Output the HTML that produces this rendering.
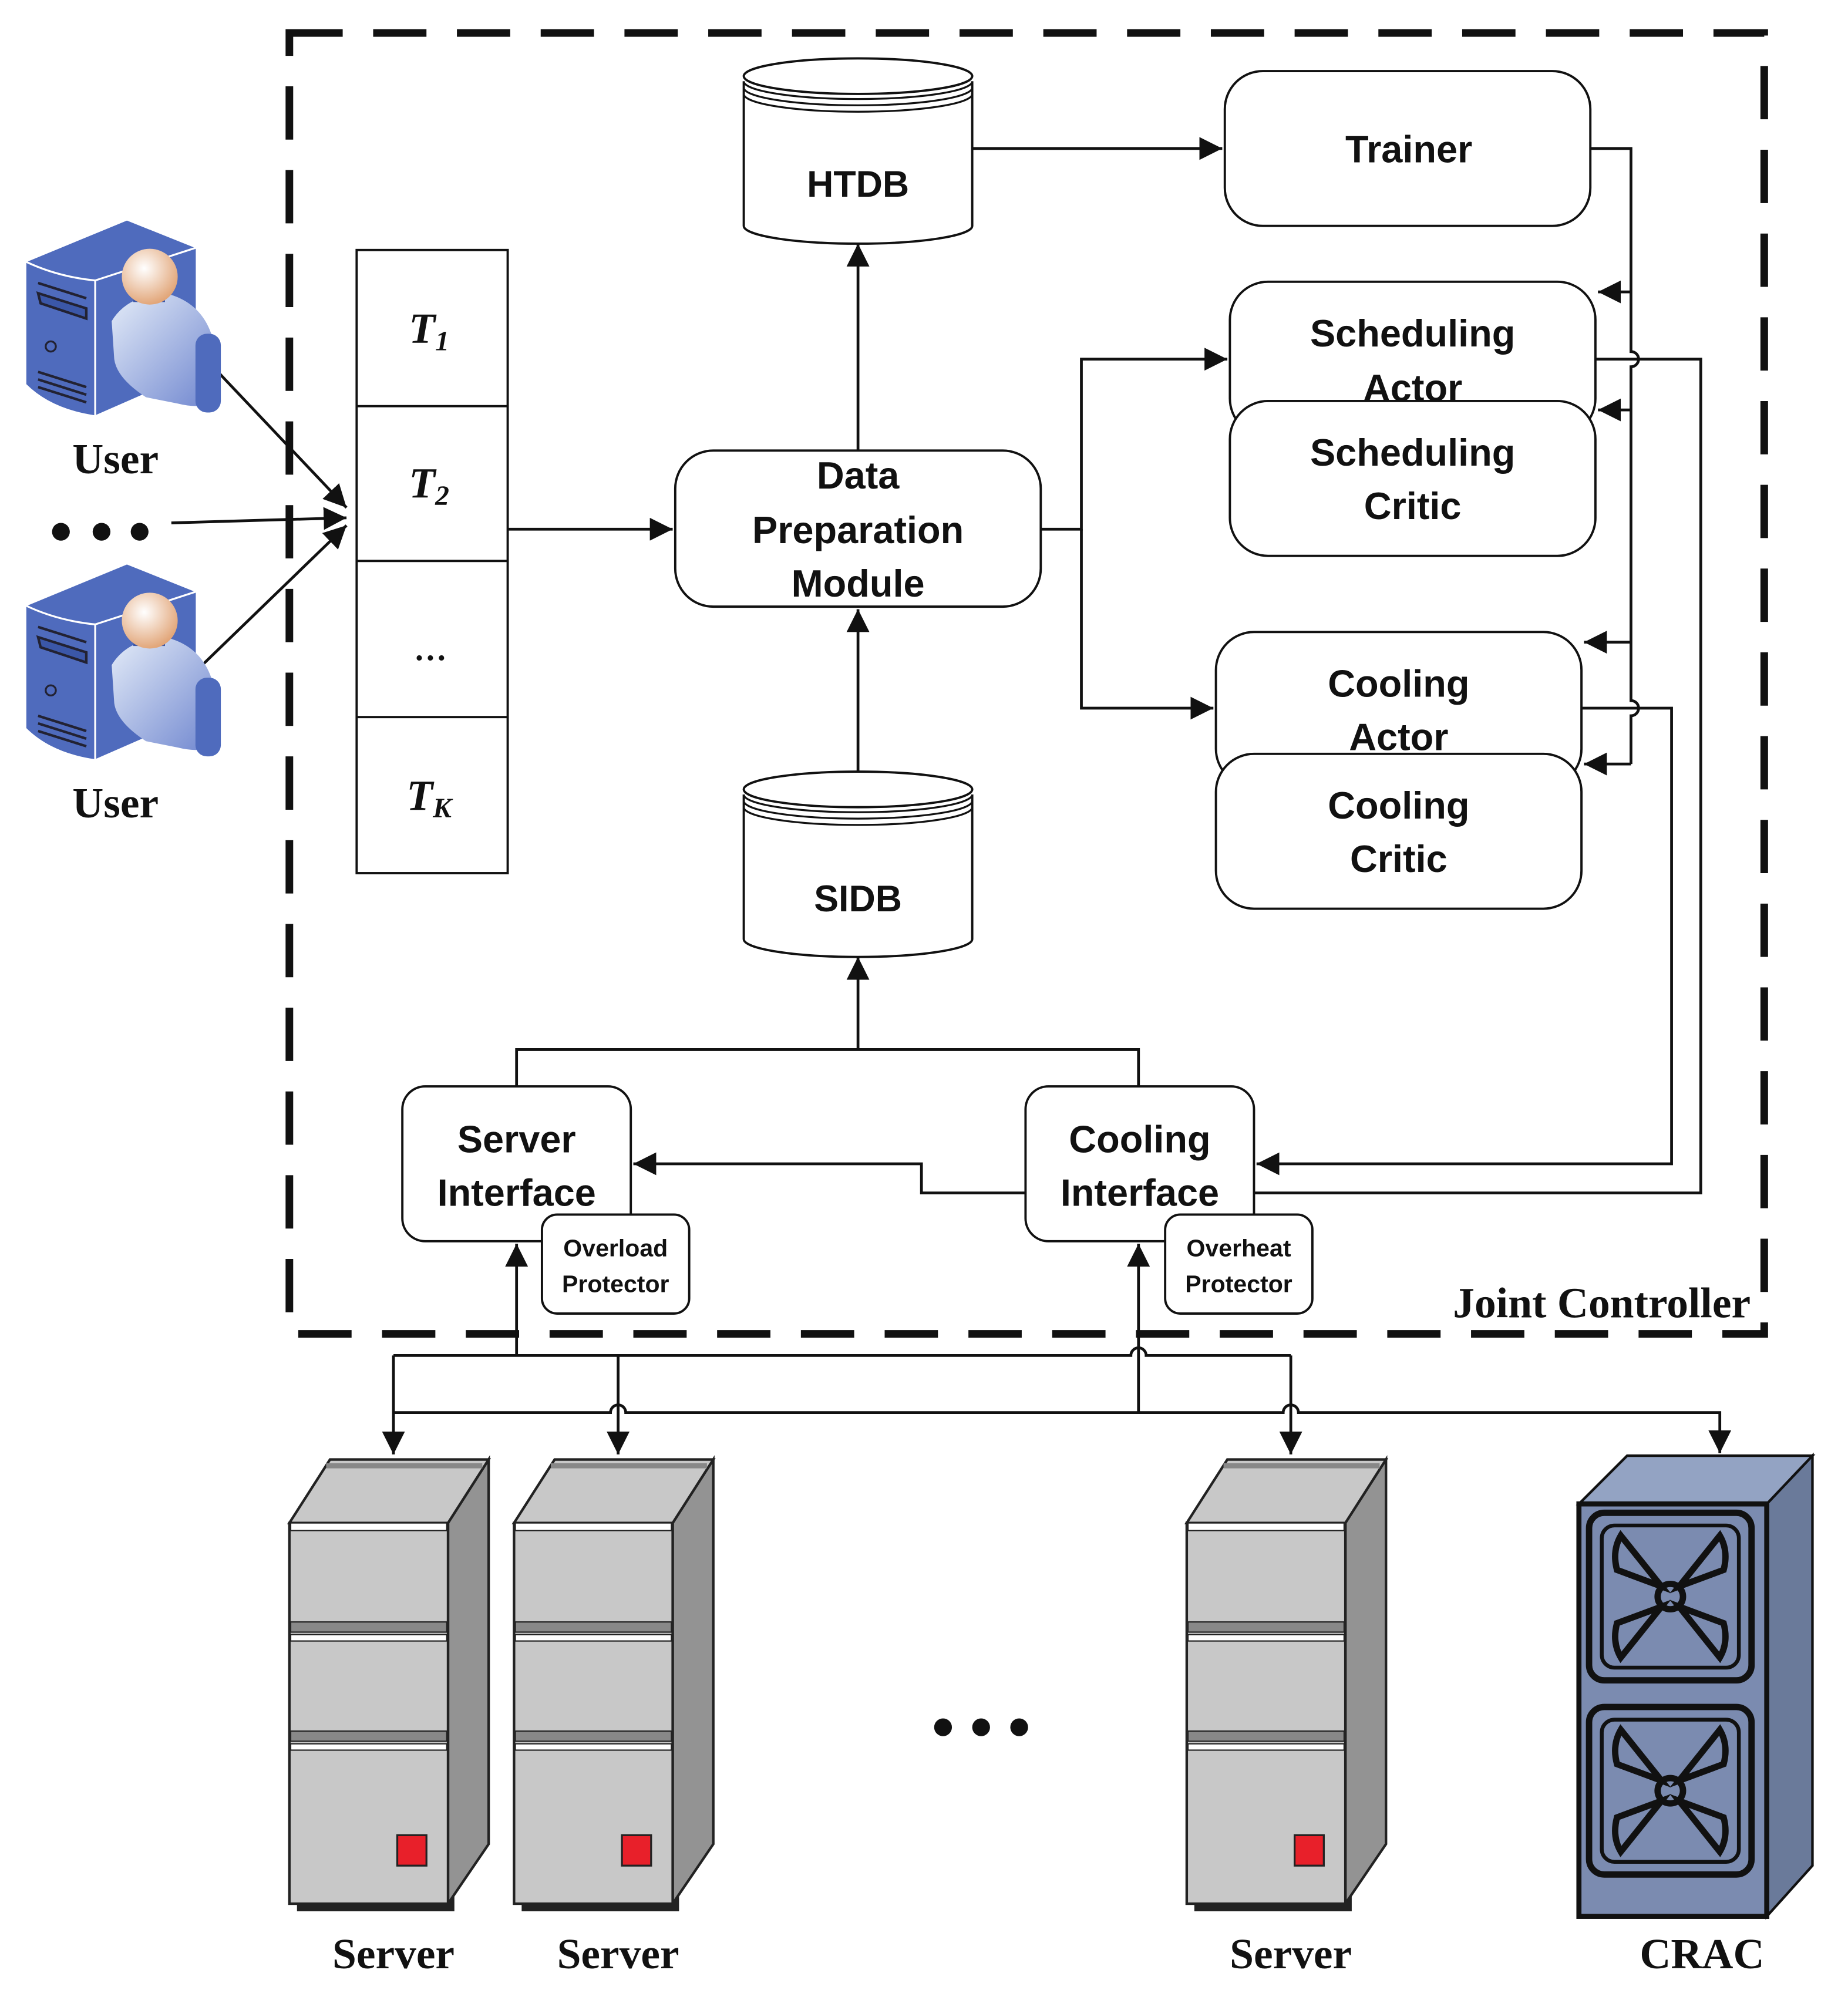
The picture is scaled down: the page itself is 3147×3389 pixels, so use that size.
<!DOCTYPE html>
<html><head><meta charset="utf-8"><style>
html,body{margin:0;padding:0;background:#fff}
svg{display:block}
.s{font-family:"Liberation Sans",sans-serif;font-weight:bold;fill:#111;text-anchor:middle}
.r{font-family:"Liberation Serif",serif;font-weight:bold;fill:#111;text-anchor:middle}
</style></head><body>
<svg width="3147" height="3389" viewBox="0 0 1456 1568" preserveAspectRatio="none" xmlns="http://www.w3.org/2000/svg">
<defs>
<marker id="a" viewBox="0 0 10 10" refX="10" refY="5" markerWidth="18" markerHeight="18" markerUnits="userSpaceOnUse" orient="auto"><path d="M0,0 L10,5 L0,10 z" fill="#111"/></marker>
<linearGradient id="body" x1="0" y1="0" x2="1" y2="1"><stop offset="0" stop-color="#e4ecf8"/><stop offset="1" stop-color="#6f86cf"/></linearGradient>
<radialGradient id="head" cx="0.4" cy="0.35" r="0.7"><stop offset="0" stop-color="#fff"/><stop offset="1" stop-color="#e0a070"/></radialGradient>
<g id="user">
<path d="M0,33 L80,0 L135,22 L135,120 L55,155 Q20,150 0,130 z" fill="#4f6bbd" stroke="#fff" stroke-width="1.5"/>
<path d="M0,33 Q25,45 55,48 L135,22" fill="none" stroke="#fff" stroke-width="1.5"/>
<line x1="55" y1="48" x2="55" y2="155" stroke="#fff" stroke-width="1.5"/>
<path d="M10,50 L48,62 M10,58 L48,70 L48,78 L12,66 z" stroke="#223" stroke-width="2" fill="#3b57a8"/>
<circle cx="20" cy="100" r="4" fill="none" stroke="#223" stroke-width="1.5"/>
<path d="M10,120 L48,132 M10,126 L48,138 M10,132 L48,144" stroke="#223" stroke-width="2"/>
<path d="M68,80 Q80,60 110,58 Q140,65 148,95 L150,142 Q140,150 120,145 L95,140 Q72,125 70,110 z" fill="url(#body)"/>
<rect x="134" y="90" width="20" height="62" rx="9" fill="#4f6bbd"/>
<rect x="85" y="45" width="25" height="20" fill="#3b57a8"/>
<circle cx="98" cy="45" r="22" fill="url(#head)"/>
</g>
<g id="srv">
<rect x="6" y="340" width="124" height="18" fill="#222"/>
<path d="M125,52 L157,2 L157,305 L125,352 z" fill="#939393" stroke="#222" stroke-width="2"/>
<path d="M0,52 L32,2 L157,2 L125,52 z" fill="#c8c8c8" stroke="#222" stroke-width="2"/>
<path d="M29,7 L152,7" stroke="#888" stroke-width="4"/>
<rect x="0" y="52" width="125" height="300" fill="#c8c8c8" stroke="#222" stroke-width="2"/>
<rect x="1" y="52" width="123" height="6" fill="#fff" stroke="#222" stroke-width="1"/>
<rect x="1" y="130" width="123" height="8" fill="#888" stroke="#222" stroke-width="1"/>
<rect x="1" y="140" width="123" height="5" fill="#fff" stroke="#222" stroke-width="1"/>
<rect x="1" y="216" width="123" height="8" fill="#888" stroke="#222" stroke-width="1"/>
<rect x="1" y="226" width="123" height="5" fill="#fff" stroke="#222" stroke-width="1"/>
<rect x="85" y="298" width="23" height="24" fill="#e8202a" stroke="#222" stroke-width="1.5"/>
</g>
<g id="fan">
<rect x="0" y="0" width="128" height="132" rx="12" fill="#7b8bb0" stroke="#111" stroke-width="5"/>
<rect x="10" y="10" width="108" height="112" rx="10" fill="none" stroke="#111" stroke-width="3"/>
<circle cx="64" cy="66" r="10" fill="none" stroke="#111" stroke-width="5"/>
<g fill="none" stroke="#111" stroke-width="5">
<path d="M57,58 L25,18 Q18,30 22,45 z"/><path d="M71,58 L103,18 Q110,30 106,45 z"/>
<path d="M57,74 L25,114 Q18,102 22,87 z"/><path d="M71,74 L103,114 Q110,102 106,87 z"/>
</g>
</g>
<g id="cyl">
<path d="M0,18 L0,132 A90,14 0 0 0 180,132 L180,18" fill="#fff" stroke="#111" stroke-width="1.8"/>
<ellipse cx="90" cy="14" rx="90" ry="14" fill="#fff" stroke="#111" stroke-width="1.8"/>
<path d="M0,18 A90,14 0 0 0 180,18 M0,23 A90,14 0 0 0 180,23 M0,28 A90,14 0 0 0 180,28" fill="none" stroke="#111" stroke-width="1.5"/>
</g>
</defs>

<rect x="228" y="26" width="1162" height="1025" fill="none" stroke="#111" stroke-width="6" stroke-dasharray="42,24"/>
<text class="r" x="1262" y="1038" font-size="34">Joint Controller</text>

<use href="#cyl" x="586" y="46"/>
<text class="s" x="676" y="155" font-size="29">HTDB</text>
<use href="#cyl" x="586" y="608"/>
<text class="s" x="676" y="718" font-size="29">SIDB</text>

<g fill="#fff" stroke="#111" stroke-width="1.8">
<rect x="965" y="56" width="288" height="122" rx="30"/>
<rect x="969" y="222" width="288" height="122" rx="30"/>
<rect x="969" y="316" width="288" height="122" rx="30"/>
<rect x="958" y="498" width="288" height="122" rx="30"/>
<rect x="958" y="594" width="288" height="122" rx="30"/>
<rect x="532" y="355" width="288" height="123" rx="30"/>
<rect x="281" y="197" width="119" height="491"/>
<rect x="317" y="856" width="180" height="122" rx="18"/>
<rect x="808" y="856" width="180" height="122" rx="18"/>
<rect x="427" y="957" width="116" height="78" rx="12"/>
<rect x="918" y="957" width="116" height="78" rx="12"/>
</g>
<path d="M281,320 H400 M281,442 H400 M281,565 H400" stroke="#111" stroke-width="1.8"/>

<g class="s" font-size="30">
<text x="1110" y="128">Trainer</text>
<text x="1113" y="273">Scheduling</text><text x="1113" y="316">Actor</text>
<text x="1113" y="367">Scheduling</text><text x="1113" y="409">Critic</text>
<text x="1102" y="549">Cooling</text><text x="1102" y="591">Actor</text>
<text x="1102" y="645">Cooling</text><text x="1102" y="687">Critic</text>
<text x="676" y="385">Data</text><text x="676" y="428">Preparation</text><text x="676" y="470">Module</text>
<text x="407" y="908">Server</text><text x="407" y="950">Interface</text>
<text x="898" y="908">Cooling</text><text x="898" y="950">Interface</text>
</g>
<g class="s" font-size="19" font-weight="normal">
<text x="485" y="990">Overload</text><text x="485" y="1018">Protector</text>
<text x="976" y="990">Overheat</text><text x="976" y="1018">Protector</text>
</g>
<g class="r" font-style="italic" font-size="34">
<text x="338" y="270">T<tspan font-size="22" dy="6">1</tspan></text>
<text x="338" y="392">T<tspan font-size="22" dy="6">2</tspan></text>
<text x="340" y="520" font-size="26">…</text>
<text x="338" y="638">T<tspan font-size="22" dy="6">K</tspan></text>
</g>

<g fill="none" stroke="#111" stroke-width="2.2">
<path d="M766,117 H963" marker-end="url(#a)"/>
<path d="M676,355 V192" marker-end="url(#a)"/>
<path d="M676,608 V480" marker-end="url(#a)"/>
<path d="M400,417 H530" marker-end="url(#a)"/>
<path d="M820,417 H852 V283 H967" marker-end="url(#a)"/>
<path d="M852,417 V558 H956" marker-end="url(#a)"/>
<path d="M1253,117 H1285 V277 A6,6 0 0 1 1285,289 V552 A6,6 0 0 1 1285,564 V602"/>
<path d="M1285,230 H1259" marker-end="url(#a)"/>
<path d="M1285,323 H1259" marker-end="url(#a)"/>
<path d="M1285,506 H1248" marker-end="url(#a)"/>
<path d="M1285,602 H1248" marker-end="url(#a)"/>
<path d="M1257,283 H1340 V940 H988"/>
<path d="M1246,558 H1317 V917 H990" marker-end="url(#a)"/>
<path d="M808,940 H726 V917 H499" marker-end="url(#a)"/>
<path d="M407,856 V827 H897 V856"/>
<path d="M676,827 V754" marker-end="url(#a)"/>
<path d="M407,1068 V980" marker-end="url(#a)"/>
<path d="M310,1068 H891 A6,6 0 0 1 903,1068 H1017"/>
<path d="M310,1068 V1146" marker-end="url(#a)"/>
<path d="M487,1068 V1146" marker-end="url(#a)"/>
<path d="M1017,1068 V1146" marker-end="url(#a)"/>
<path d="M897,1113 V980" marker-end="url(#a)"/>
<path d="M310,1113 H481 A6,6 0 0 1 493,1113 H1011 A6,6 0 0 1 1023,1113 H1355 V1145" marker-end="url(#a)"/>
<path d="M148,268 L273,400" marker-end="url(#a)"/>
<path d="M135,412 L273,408" marker-end="url(#a)"/>
<path d="M148,535 L273,414" marker-end="url(#a)"/>
</g>

<use href="#user" x="20" y="173"/>
<use href="#user" x="20" y="444"/>
<g class="r" font-size="34"><text x="91" y="373">User</text><text x="91" y="644">User</text></g>
<g fill="#111"><circle cx="48" cy="419" r="7"/><circle cx="80" cy="419" r="7"/><circle cx="110" cy="419" r="7"/>
<circle cx="743" cy="1361" r="7"/><circle cx="773" cy="1361" r="7"/><circle cx="803" cy="1361" r="7"/></g>

<use href="#srv" x="228" y="1148"/>
<use href="#srv" x="405" y="1148"/>
<use href="#srv" x="935" y="1148"/>

<path d="M1392,1185 L1428,1147 L1428,1470 L1392,1510 z" fill="#6a7a9a" stroke="#111" stroke-width="2"/>
<path d="M1244,1185 L1282,1147 L1428,1147 L1392,1185 z" fill="#93a3c3" stroke="#111" stroke-width="2"/>
<rect x="1244" y="1185" width="148" height="325" fill="#7b8bb0" stroke="#111" stroke-width="4"/>
<use href="#fan" x="1252" y="1192"/>
<use href="#fan" x="1252" y="1345"/>

<g class="r" font-size="34">
<text x="310" y="1551">Server</text><text x="487" y="1551">Server</text>
<text x="1017" y="1551">Server</text><text x="1341" y="1551">CRAC</text>
</g>
</svg>
</body></html>
